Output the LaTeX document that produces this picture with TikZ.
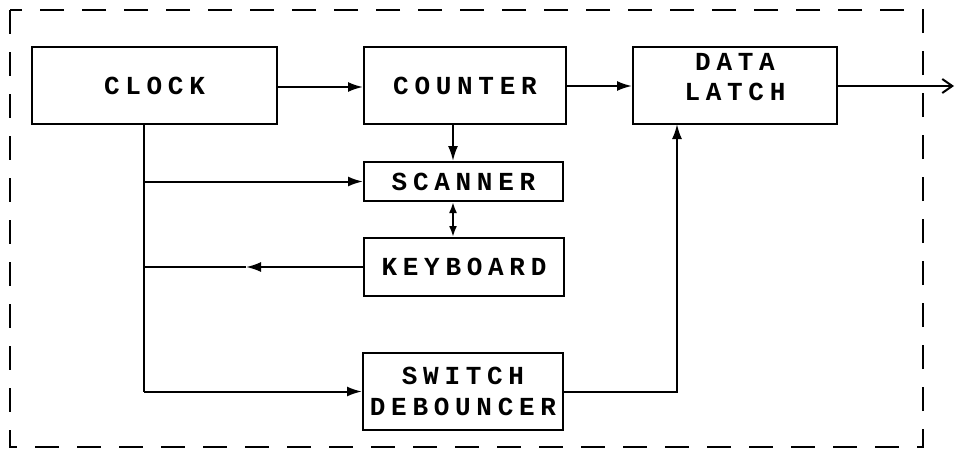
\documentclass[tikz,border=0pt]{standalone}
\usepackage{fontspec}
\setmonofont{Liberation Mono}
\usetikzlibrary{arrows.meta}

\tikzset{
  block/.style={rectangle, draw, line width=2pt, inner sep=0pt, align=center,
    font=\ttfamily\bfseries\fontsize{26}{31}\selectfont\addfontfeature{LetterSpace=22}},
  sig/.style={line width=2pt, -{Latex[length=15pt,width=10pt]}},
  wire/.style={line width=2pt}
}

\begin{document}
\begin{tikzpicture}[x=1pt, y=-1pt]
  \useasboundingbox (0,0) rectangle (956,451);
  \draw[line width=2.6pt, dash pattern=on 24pt off 18pt] (10,10) rectangle (923,447);

  \node[block, minimum width=245pt, minimum height=77pt] (clock) at (154.5,85.5) {CLOCK};
  \node[block, minimum width=202pt, minimum height=77pt] (counter) at (465,85.5) {COUNTER};
  \node[block, minimum width=204pt, minimum height=77pt] (latch) at (735,85.5) {};
  \node[font=\ttfamily\bfseries\fontsize{26}{30}\selectfont\addfontfeature{LetterSpace=22}, align=center, inner sep=0pt] (latchtext) at (735,77) {DATA\\LATCH};
  \node[block, minimum width=199pt, minimum height=39pt] (scanner) at (463.5,181.5) {SCANNER};
  \node[block, minimum width=200pt, minimum height=58pt] (keyboard) at (464,267) {KEYBOARD};
  \node[block, minimum width=200pt, minimum height=77pt] (switch) at (463,391.5) {SWITCH\\DEBOUNCER};

  \coordinate (tap) at (144,391.5);
  \coordinate (kbmid) at (246,267);
  \coordinate (scanx) at (453,0);
  \coordinate (latchin) at (677,124);
  \coordinate (out) at (954,86);

  \draw[sig] (clock.east |- 0,87) -- (counter.west |- 0,87);
  \draw[sig] (counter.east |- 0,86) -- (latch.west |- 0,86);
  \draw[wire, -{Straight Barb[length=10pt,width=14pt]}] (latch.east |- out) -- (out);
  \draw[sig] (scanx |- counter.south) -- (scanx |- scanner.north);
  \draw[wire, {Latex[length=11pt,width=8pt]}-{Latex[length=11pt,width=8pt]}] (scanx |- scanner.south) -- (scanx |- keyboard.north);

  \draw[wire] (clock.south -| tap) -- (tap);
  \draw[sig] (tap) -- (switch.west);
  \draw[sig] (tap |- scanner.west) -- (scanner.west);
  \draw[sig] (keyboard.west) -- (kbmid);
  \draw[wire] (kbmid) -- (tap |- keyboard.west);
  \draw[sig] (switch.east) -| (latchin);
\end{tikzpicture}
\end{document}
